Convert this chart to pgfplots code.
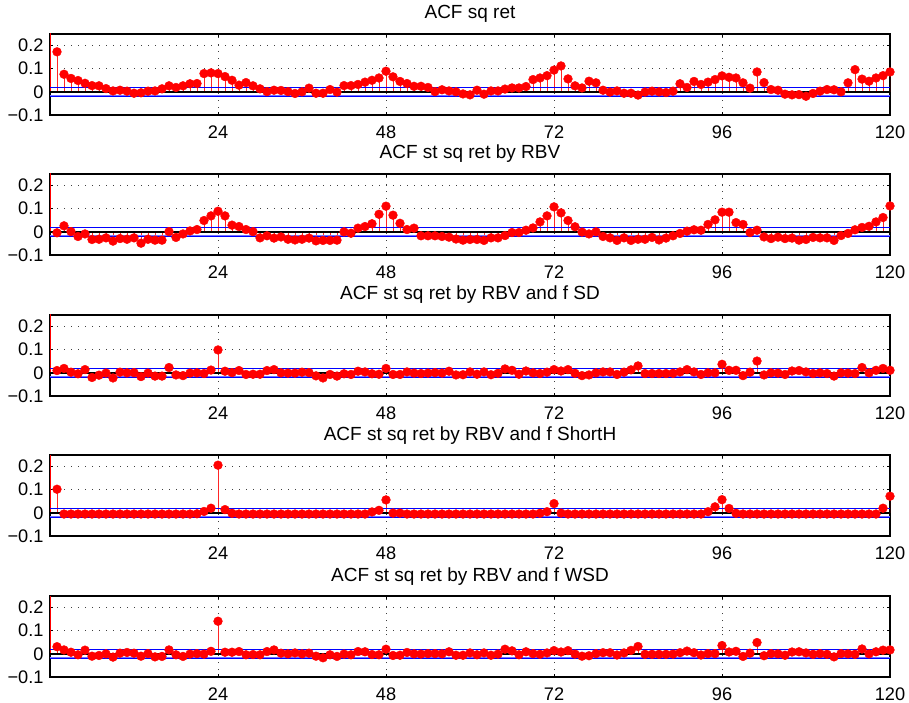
\documentclass[border=0pt]{standalone}
\usepackage{fontspec}
\setmainfont{Liberation Sans}
\usepackage{pgfplots}
\usepackage{pgfplotstable}
\pgfplotsset{compat=1.18}

\pgfplotstableread{
lag a b c d e
1 0.173 -0.004 0.010 0.102 0.031
2 0.076 0.026 0.019 -0.005 0.017
3 0.058 0.001 0.003 -0.005 0.007
4 0.049 -0.020 -0.004 -0.005 -0.004
5 0.037 -0.009 0.014 -0.005 0.016
6 0.027 -0.033 -0.020 -0.005 -0.010
7 0.026 -0.032 -0.010 -0.005 -0.007
8 0.014 -0.026 -0.001 -0.005 0.000
9 0.004 -0.040 -0.022 -0.005 -0.014
10 0.007 -0.029 0.003 -0.005 0.003
11 0.003 -0.032 0.000 -0.005 0.006
12 -0.006 -0.026 0.001 -0.005 0.003
13 -0.004 -0.049 -0.016 -0.005 -0.010
14 0.003 -0.032 -0.001 -0.005 0.001
15 0.004 -0.036 -0.014 -0.005 -0.013
16 0.013 -0.036 -0.014 -0.005 -0.011
17 0.026 0.001 0.023 -0.005 0.017
18 0.019 -0.024 -0.009 -0.005 -0.004
19 0.026 -0.009 -0.012 -0.005 -0.011
20 0.035 0.004 -0.001 -0.005 -0.001
21 0.036 0.010 0.000 -0.004 0.001
22 0.079 0.049 -0.003 0.006 -0.001
23 0.082 0.069 0.012 0.020 0.011
24 0.079 0.089 0.099 0.206 0.141
25 0.066 0.069 0.007 0.014 0.007
26 0.050 0.029 0.001 -0.002 0.007
27 0.029 0.023 0.010 -0.005 0.010
28 0.040 0.010 -0.007 -0.005 -0.004
29 0.026 0.001 -0.006 -0.005 -0.003
30 0.013 -0.026 -0.006 -0.005 -0.004
31 0.001 -0.017 0.010 -0.005 0.010
32 0.007 -0.027 0.014 -0.005 0.017
33 0.006 -0.022 0.000 -0.005 0.003
34 0.001 -0.032 -0.001 -0.005 0.000
35 -0.007 -0.035 -0.001 -0.005 0.004
36 0.000 -0.032 0.003 -0.005 0.000
37 0.016 -0.027 0.001 -0.005 0.003
38 -0.006 -0.039 -0.013 -0.005 -0.010
39 -0.006 -0.037 -0.022 -0.005 -0.017
40 0.010 -0.037 -0.007 -0.005 -0.004
41 -0.001 -0.036 -0.014 -0.005 -0.011
42 0.027 0.000 -0.004 -0.005 -0.001
43 0.027 -0.006 -0.007 -0.005 -0.004
44 0.032 0.016 0.007 -0.005 0.010
45 0.042 0.023 0.004 -0.005 0.009
46 0.050 0.035 -0.004 0.004 -0.003
47 0.060 0.076 -0.006 0.011 -0.004
48 0.089 0.111 0.019 0.056 0.020
49 0.065 0.072 -0.007 -0.001 -0.007
50 0.045 0.037 -0.007 -0.001 -0.006
51 0.036 0.010 0.004 -0.005 0.006
52 0.024 0.016 -0.001 -0.005 0.000
53 0.024 -0.017 -0.003 -0.005 -0.001
54 0.019 -0.017 -0.001 -0.005 0.001
55 0.001 -0.017 0.001 -0.005 0.001
56 0.009 -0.020 -0.001 -0.005 0.000
57 0.004 -0.023 0.007 -0.005 0.009
58 0.000 -0.031 -0.009 -0.005 -0.006
59 -0.009 -0.036 -0.008 -0.005 -0.006
60 -0.013 -0.033 0.004 -0.005 0.004
61 0.007 -0.033 -0.006 -0.005 -0.004
62 -0.010 -0.037 0.004 -0.005 0.004
63 0.004 -0.026 -0.008 -0.005 -0.006
64 0.004 -0.026 -0.002 -0.005 -0.001
65 0.012 -0.016 0.017 -0.005 0.020
66 0.017 -0.003 0.011 -0.005 0.013
67 0.017 -0.003 -0.006 -0.005 -0.004
68 0.023 0.007 0.008 -0.005 0.009
69 0.053 0.017 0.000 -0.005 0.001
70 0.060 0.043 -0.003 -0.002 -0.002
71 0.070 0.069 0.003 0.005 0.004
72 0.094 0.108 0.014 0.040 0.014
73 0.112 0.082 0.008 -0.001 0.008
74 0.056 0.049 0.014 -0.005 0.014
75 0.026 0.022 -0.002 -0.005 -0.001
76 0.017 -0.001 -0.012 -0.005 -0.010
77 0.046 -0.009 -0.009 -0.005 -0.008
78 0.039 0.000 0.000 -0.005 0.001
79 0.007 -0.020 0.004 -0.005 0.005
80 -0.001 -0.026 0.004 -0.005 0.005
81 0.004 -0.037 -0.007 -0.005 -0.005
82 -0.006 -0.026 0.003 -0.005 0.004
83 -0.006 -0.037 0.013 -0.005 0.015
84 -0.014 -0.032 0.030 -0.005 0.032
85 -0.001 -0.032 -0.003 -0.005 -0.002
86 0.003 -0.024 -0.003 -0.005 -0.002
87 0.000 -0.035 -0.003 -0.005 -0.002
88 -0.003 -0.027 -0.003 -0.005 -0.002
89 0.003 -0.017 -0.002 -0.005 -0.001
90 0.035 -0.007 0.004 -0.005 0.005
91 0.019 0.003 0.014 -0.005 0.012
92 0.045 0.009 0.004 -0.005 0.005
93 0.032 0.007 -0.007 -0.005 -0.005
94 0.042 0.032 0.000 0.005 0.001
95 0.053 0.052 0.000 0.026 0.001
96 0.069 0.085 0.037 0.057 0.036
97 0.063 0.085 0.011 0.019 0.008
98 0.060 0.040 0.011 -0.002 0.011
99 0.039 0.032 -0.012 -0.005 -0.011
100 0.016 -0.003 0.003 -0.005 0.003
101 0.086 0.007 0.051 -0.005 0.049
102 0.040 -0.022 -0.009 -0.005 -0.008
103 0.010 -0.029 0.000 -0.005 0.001
104 0.007 -0.023 -0.001 -0.005 0.000
105 -0.010 -0.029 -0.007 -0.005 -0.006
106 -0.013 -0.027 0.008 -0.005 0.008
107 -0.012 -0.036 0.010 -0.005 0.009
108 -0.019 -0.033 0.004 -0.005 0.004
109 -0.007 -0.024 -0.003 -0.005 -0.002
110 0.003 -0.026 0.000 -0.005 0.001
111 0.010 -0.026 -0.003 -0.005 -0.002
112 0.009 -0.037 -0.014 -0.005 -0.013
113 0.000 -0.016 0.000 -0.005 0.001
114 0.039 -0.007 -0.001 -0.005 0.000
115 0.096 0.009 -0.003 -0.005 -0.002
116 0.055 0.019 0.023 -0.005 0.021
117 0.046 0.024 0.000 -0.005 0.000
118 0.060 0.043 0.011 -0.005 0.009
119 0.070 0.062 0.019 0.020 0.016
120 0.086 0.112 0.011 0.072 0.017
}\acf

\pgfplotsset{
  every axis title/.style={at={(0.5,1)}, anchor=base, yshift=7.5pt},
  acf/.style={
    scale only axis, width=420pt, height=40.5pt,
    anchor=south west,
    xmin=0, xmax=120, ymin=-0.1, ymax=0.25,
    xtick={24,48,72,96,120},
    ytick={-0.1,0,0.1,0.2},
    yticklabels={−0.1,0,0.1,0.2},
    tick align=inside, major tick length=1.6pt,
    xtick pos=both, ytick pos=both,
    xticklabel pos=bottom, yticklabel pos=left,
    grid=major,
    major grid style={black!75, line width=0.5pt, dash pattern=on 0.5pt off 3pt},
    axis line style={black, line width=0.6pt},
    tick style={black, line width=0.5pt},
    tick label style={font=\fontsize{9.1}{11}\selectfont},
    /pgf/number format/assume math mode=true,
    xticklabel style={yshift=-2.0pt},
    yticklabel style={xshift=0.3pt},
    title style={font=\fontsize{9.5}{11}\selectfont},
    clip=true,
  },
  stem/.style={red!85!white, line width=0.5pt, ycomb, mark=*, mark size=2.2pt,
    mark options={fill=red, draw=red, line width=0.2pt}},
}

\newcommand{\panel}[3]{%
  \begin{axis}[acf, at={(25pt,#1)}, title={#2}]
    \addplot[red, line width=0.5pt, ycomb, no marks] coordinates {(0,1)};
    \addplot[stem] table[x=lag, y=#3] {\acf};
    \addplot[blue!55, line width=1.0pt, no marks] coordinates {(0,-0.018) (120,-0.018)};
    \addplot[blue, line width=0.5pt, no marks] coordinates {(0,-0.018) (120,-0.018)};
    \addplot[blue, line width=0.5pt, no marks] coordinates {(0,0.018) (120,0.018)};
    \addplot[black, line width=0.8pt, no marks] coordinates {(0,0) (120,0)};
  \end{axis}}

\begin{document}
\begin{tikzpicture}
\useasboundingbox (0,0) rectangle (454.5pt,351pt);
\panel{293.5pt}{ACF sq ret}{a}
\panel{223.5pt}{ACF st sq ret by RBV}{b}
\panel{153pt}{ACF st sq ret by RBV and f SD}{c}
\panel{83pt}{ACF st sq ret by RBV and f ShortH}{d}
\panel{12.5pt}{ACF st sq ret by RBV and f WSD}{e}
\end{tikzpicture}
\end{document}
